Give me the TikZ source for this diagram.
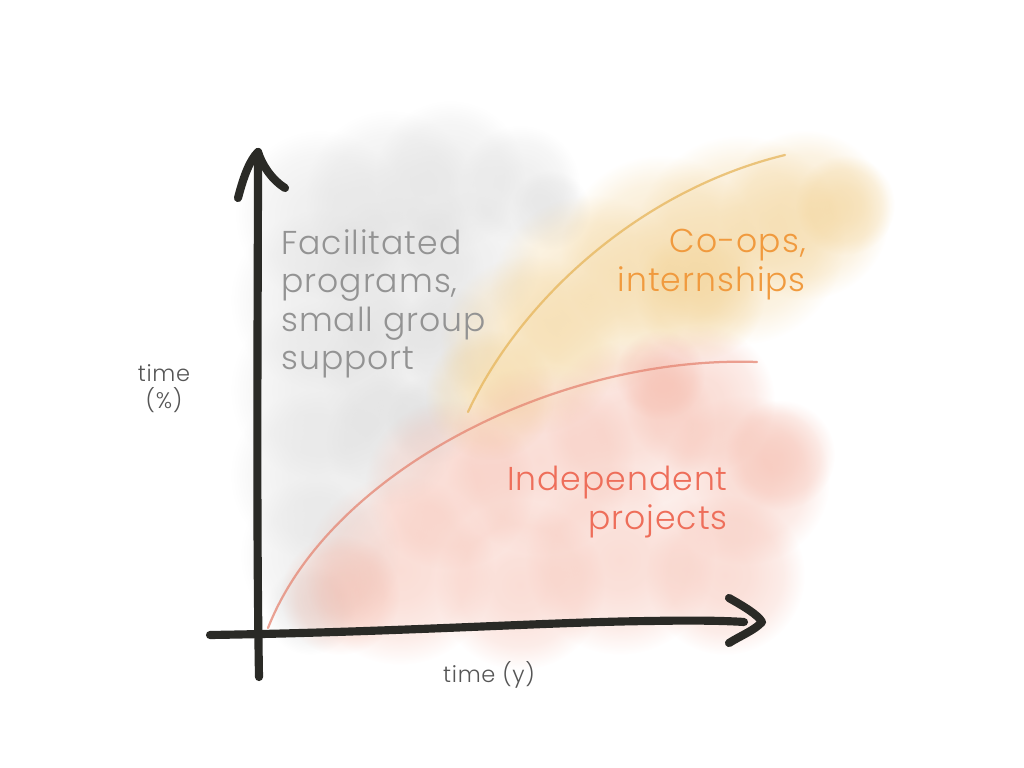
\documentclass[tikz,border=0pt]{standalone}
\usepackage{fontspec}
\setmainfont{Poppins Light}[LetterSpace=3]
\usetikzlibrary{fadings}
\pgfdeclareradialshading{softsh}{\pgfpoint{0bp}{0bp}}{color(0bp)=(pgftransparent!0); color(8bp)=(pgftransparent!10); color(18bp)=(pgftransparent!45); color(25bp)=(pgftransparent!100); color(50bp)=(pgftransparent!100)}
\pgfdeclarefading{soft}{\pgfuseshading{softsh}}
\definecolor{axisc}{HTML}{2A2A26}
\definecolor{greytxt}{HTML}{939393}
\definecolor{orangetxt}{HTML}{F09A3E}
\definecolor{redtxt}{HTML}{EE6E5A}
\definecolor{axislab}{HTML}{555555}
\definecolor{greywash}{HTML}{D2D2D2}
\definecolor{orangewash}{HTML}{F0CB85}
\definecolor{pinkwash}{HTML}{F3AE9C}
\definecolor{orangeline}{HTML}{E6B55A}
\definecolor{redline}{HTML}{E58572}
\tikzset{
  wash/.style={fill=#1, fill opacity=0.42, path fading=soft},
  greyw/.style={fill=greywash, fill opacity=0.36, path fading=soft},
  axisline/.style={draw=axisc, line width=5.8pt, line cap=round, line join=round},
  pencil/.style={draw=#1, line width=1.6pt, line cap=round, opacity=0.75},
  bigtext/.style={inner sep=0pt, font=\fontsize{23.5}{27.4}\selectfont},
  smalltext/.style={inner sep=0pt, text=axislab, align=center, font=\fontsize{16}{19.5}\selectfont}
}
\begin{document}
\begin{tikzpicture}[x=0.025cm, y=-0.025cm]
\useasboundingbox (0,0) rectangle (1024,768);
% grey wash
\foreach \x/\y/\r in {320/215/85, 390/195/85, 450/175/75, 520/185/60, 550/210/40, 320/300/90, 400/280/85, 470/260/70, 320/390/90, 400/370/80, 450/340/55, 315/475/85, 320/555/80, 310/610/45, 390/440/65, 430/420/45}
  \fill[greyw] (\x,\y) circle (\r);
% orange wash
\foreach \x/\y/\r in {490/395/65, 530/345/90, 590/295/100, 660/255/100, 740/240/105, 805/215/85, 845/205/50, 700/295/65}
  \fill[wash=orangewash] (\x,\y) circle (\r);
% pink wash
\foreach \x/\y/\r in {340/595/60, 400/570/95, 450/485/85, 540/460/95, 520/585/85, 620/560/95, 630/425/85, 700/400/75, 745/480/85, 725/575/80, 780/455/55, 660/375/45}
  \fill[wash=pinkwash] (\x,\y) circle (\r);
% pencil curves
\coordinate (os) at (468,412);
\coordinate (oe) at (785,155);
\coordinate (rs) at (268,628);
\coordinate (re) at (757,362);
\draw[pencil=orangeline] (os) .. controls (520,300) and (640,190) .. (oe);
\draw[pencil=redline] (rs) .. controls (330,470) and (560,355) .. (re);
% axes
\coordinate (yb) at (259,677);
\coordinate (yt) at (258,152);
\coordinate (ya1) at (238,198);
\coordinate (ya2) at (285,188);
\coordinate (xl) at (210,635);
\coordinate (xr) at (744,622);
\coordinate (xa1) at (729,598);
\coordinate (xa2) at (729,643);
\coordinate (xt) at (762,622);
\draw[axisline] (yb) .. controls (256,500) and (258,300) .. (yt);
\draw[axisline] (ya1) .. controls (244,175) and (250,160) .. (yt) .. controls (262,165) and (272,180) .. (ya2);
\draw[axisline] (xl) .. controls (400,632) and (550,622) .. (650,621) .. controls (700,620) and (730,621) .. (xr);
\draw[axisline] (xa1) .. controls (745,607) and (758,615) .. (xt) .. controls (755,630) and (740,636) .. (xa2);
% labels
\node[bigtext, text=greytxt, align=left, anchor=north west] (fac) at (281,229) {Facilitated\\programs,\\small group\\support};
\node[bigtext, text=orangetxt, align=right, anchor=north east] (coop) at (806,229) {Co-ops,\\internships};
\node[bigtext, text=redtxt, align=right, anchor=north east] (ind) at (728,466) {Independent\\projects};
\node[smalltext, anchor=north] (tp) at (164,364) {time\\(\%)};
\node[smalltext, anchor=north] (ty) at (489,661) {time (y)};
\end{tikzpicture}
\end{document}
